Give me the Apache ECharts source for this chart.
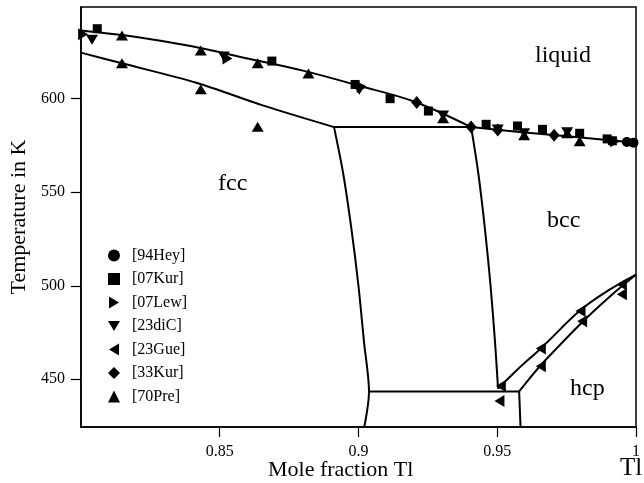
<!DOCTYPE html>
<html>
<head>
<meta charset="utf-8">
<script src="https://cdn.jsdelivr.net/npm/echarts@6/dist/echarts.min.js"></script>
<style>html,body{margin:0;padding:0;background:#fff}#c{width:644px;height:483px}</style>
</head>
<body>
<div id="c"></div>
<script>
// ---- axis ticks ----
const xTicks = [0.85, 0.9, 0.95, 1];
const yTicks = [450, 500, 550, 600];

// ---- phase boundaries [x, T] ----
const liquidusFcc = [[0.8,636.5],[0.82,633],[0.84,628],[0.86,621.5],[0.88,615],[0.90,607],[0.92,598.5],[0.9406,584.8]];
const liquidusBcc = [[0.9406,584.8],[0.96,581.9],[0.98,579.2],[1.0,576.5]];
const solidus = [[0.8,624.6],[0.8148,618.9],[0.8416,608.5],[0.8655,596.4],[0.8912,584.8]];
const peritectic = [[0.8912,584.8],[0.9406,584.8]];
const fccSolvus = [[0.8912,584.8],[0.8945,560],[0.8975,530],[0.9,500],[0.902,470],[0.9038,443.5],[0.9021,424.5]];
const bccSolvus = [[0.9406,584.8],[0.9432,560],[0.9456,530],[0.9476,500],[0.9492,470],[0.9503,445]];
const eutectoid = [[0.9038,443.5],[0.9579,443.5]];
const hcpVertical = [[0.9579,443.5],[0.9584,424.5]];
const bccHcpUpper = [[0.9503,445],[0.9575,455.5],[0.9657,466.5],[0.98,487],[0.99,497.5],[1.0,506]];
const bccHcpLower = [[0.9579,443.5],[0.9625,452],[0.9669,459.5],[0.9806,480.5],[0.99,493.5],[1.0,506]];

// ---- experimental data [x, T] ----
const hey94 = [[0.9967,576.8],[0.9991,576.5]];
const kur07 = [[0.8059,637.4],[0.8688,620.1],[0.8988,607.6],[0.9114,600],[0.9252,593.4],[0.946,586.3],[0.9573,585.4],[0.9663,583.6],[0.9797,581.5],[0.9896,578.5],[0.9915,577.5]];
const lew07 = [[0.8008,634.5],[0.8528,621.5],[0.9012,606.3],[0.9925,577.3]];
const diC23 = [[0.804,631.5],[0.8515,622.5],[0.9003,604.8],[0.9305,591],[0.9502,583.5],[0.9597,581.5],[0.9752,582]];
const gue23 = [[0.9513,446.4],[0.9508,438.4],[0.9657,466.4],[0.9657,457],[0.98,486.5],[0.9806,481],[0.9949,500.7],[0.9949,495.4]];
const kur33 = [[0.921,597.9],[0.9406,584.8],[0.9502,583.2],[0.9705,580.5]];
const pre70 = [[0.8148,633.8],[0.8148,618.9],[0.8432,625.8],[0.8432,605],[0.8637,618.9],[0.8637,585],[0.882,613.5],[0.9305,589.5],[0.9597,580.5],[0.9752,581.5],[0.9797,577.3]];

const legendNames = ['[94Hey]','[07Kur]','[07Lew]','[23diC]','[23Gue]','[33Kur]','[70Pre]'];

const FONT = 'Liberation Serif';
const RIGHT = 'path://M0,0L10,6L0,12Z';
const DOWN = 'path://M0,0L12,0L6,10Z';
const LEFT = 'path://M10,0L0,6L10,12Z';

function lineSeries(data, smooth) {
  return {type:'line', data:data, symbol:'none', smooth:smooth||false, silent:true,
    lineStyle:{color:'#000', width:2}, z:2};
}
function scatter(name, data, symbol, size) {
  return {type:'scatter', name:name, data:data, symbol:symbol, symbolSize:size,
    itemStyle:{color:'#000', opacity:1}, z:3};
}

const chart = echarts.init(document.getElementById('c'), null, {renderer:'canvas'});
chart.setOption({
  animation:false,
  backgroundColor:'#fff',
  grid:{left:76, right:8, top:7, bottom:56, show:true, borderColor:'#000', borderWidth:1.5},
  xAxis:{type:'value', min:0.8, max:1.0,
    axisLine:{show:true, lineStyle:{color:'#000', width:1.5}},
    axisTick:{show:true, inside:false, length:10, lineStyle:{color:'#000', width:1.2}, customValues:xTicks},
    axisLabel:{color:'#000', fontFamily:FONT, fontSize:16, margin:17, customValues:xTicks,
      formatter:v=>String(+v.toFixed(2))},
    splitLine:{show:false}},
  yAxis:{type:'value', min:424.5, max:649,
    axisLine:{show:true, lineStyle:{color:'#000', width:1.5}},
    axisTick:{show:true, inside:false, length:10, lineStyle:{color:'#000', width:1.2}, customValues:yTicks},
    axisLabel:{color:'#000', fontFamily:FONT, fontSize:16, margin:16, customValues:yTicks},
    splitLine:{show:false},
    name:'Temperature in K', nameLocation:'middle', nameGap:46,
    nameTextStyle:{color:'#000', fontFamily:FONT, fontSize:22}},
  legend:{orient:'vertical', left:103, top:242, itemGap:6.5, itemWidth:12, itemHeight:12,
    data:legendNames, textStyle:{color:'#000', fontFamily:FONT, fontSize:16, lineHeight:17, padding:[0,0,0,7]}, selectedMode:false},
  series:[
    lineSeries(liquidusFcc, 0.35), lineSeries(liquidusBcc, 0.3), lineSeries(solidus, 0.3),
    lineSeries(peritectic), lineSeries(fccSolvus, 0.3), lineSeries(bccSolvus, 0.3),
    lineSeries(eutectoid), lineSeries(hcpVertical), lineSeries(bccHcpUpper, 0.35), lineSeries(bccHcpLower, 0.35),
    scatter(legendNames[0], hey94, 'circle', 10),
    scatter(legendNames[1], kur07, 'rect', 9),
    scatter(legendNames[2], lew07, RIGHT, [10,12]),
    scatter(legendNames[3], diC23, DOWN, [12,10]),
    scatter(legendNames[4], gue23, LEFT, [10,12]),
    scatter(legendNames[5], kur33, 'diamond', [11,13]),
    scatter(legendNames[6], pre70, 'triangle', [12,10])
  ],
  graphic:[
    {type:'text', left:535, top:44, style:{text:'liquid', font:'24px "Liberation Serif"', fill:'#000'}},
    {type:'text', left:218, top:172, style:{text:'fcc', font:'24px "Liberation Serif"', fill:'#000'}},
    {type:'text', left:547, top:209, style:{text:'bcc', font:'24px "Liberation Serif"', fill:'#000'}},
    {type:'text', left:570, top:377, style:{text:'hcp', font:'24px "Liberation Serif"', fill:'#000'}},
    {type:'text', left:268, top:459, style:{text:'Mole fraction Tl', font:'22px "Liberation Serif"', fill:'#000'}},
    {type:'text', left:620, top:456, style:{text:'Tl', font:'25px "Liberation Serif"', fill:'#000'}}
  ]
});
</script>
</body>
</html>
